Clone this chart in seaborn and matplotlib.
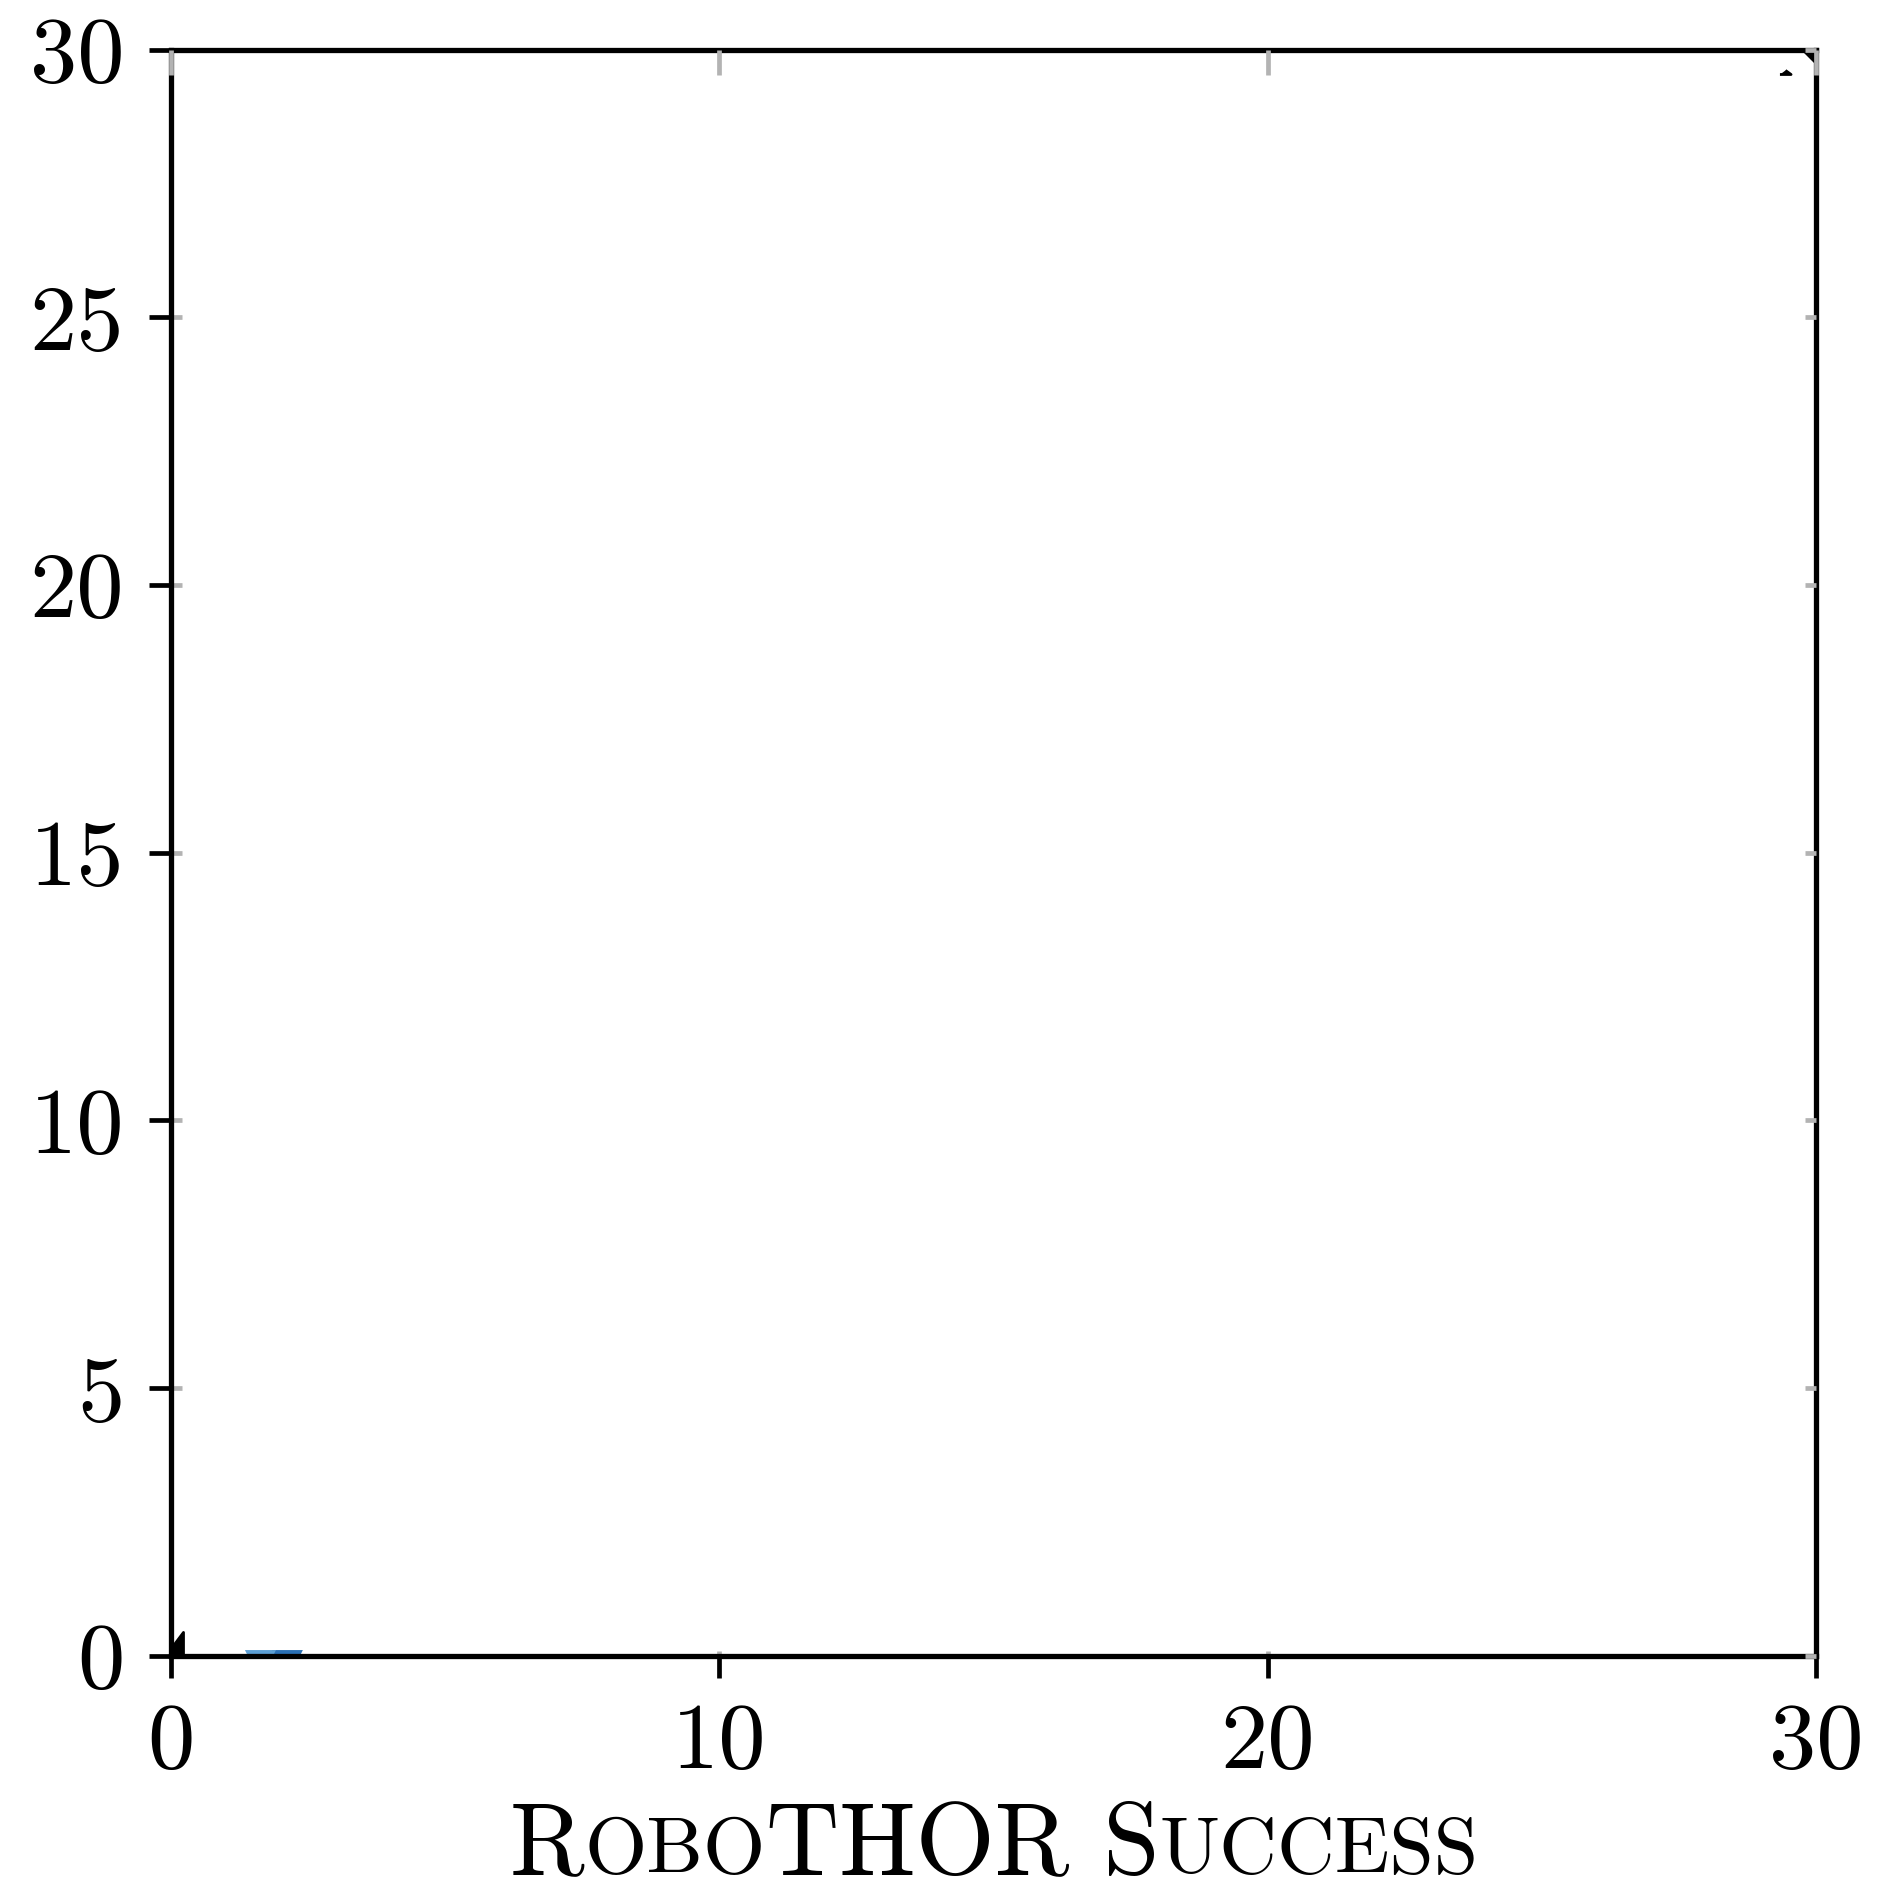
import matplotlib
matplotlib.use("Agg")
import matplotlib.pyplot as plt
import seaborn as sns
import pandas as pd
from matplotlib.offsetbox import TextArea, HPacker, AnchoredOffsetbox

# ---- data ----
x_ticks = [0, 10, 20, 30]
y_ticks = [0, 5, 10, 15, 20, 25, 30]
blue_x = [2.12, 1.63]
blue_y = [-0.18, -0.18]
blue_group = ["dark", "light"]
blue_colors = {"dark": "#2a70b5", "light": "#5c9fd4"}
black_x = [0.22, 29.44, 30.0]
black_y = [-0.075, 29.55, 30.0]

sns.set_theme(style="white")
plt.rcParams["font.family"] = ["cmr10", "DejaVu Serif"]
plt.rcParams["axes.formatter.use_mathtext"] = True
plt.rcParams["text.color"] = "black"
plt.rcParams["xtick.labelcolor"] = "black"
plt.rcParams["ytick.labelcolor"] = "black"

fig = plt.figure(figsize=(9.4, 9.455), dpi=200)
ax = fig.add_axes([0.091, 0.1243, 0.875, 0.8495])

df = pd.DataFrame({"x": blue_x, "y": blue_y, "g": blue_group})
sns.scatterplot(data=df, x="x", y="y", hue="g", palette=blue_colors,
                marker="v", s=125, linewidth=0, legend=False, ax=ax,
                clip_on=True, zorder=3)

marker_left = [(0, 0), (0, 28), (-21, 0)]
marker_small = [(-5.5, 0), (5.5, 0), (0, 4)]
ax.plot([black_x[0]], [black_y[0]], marker=marker_left, ms=20.2, color="black",
        linestyle="none", zorder=3)
ax.plot([black_x[1]], [black_y[1]], marker=marker_small, ms=4.0, color="black",
        linestyle="none", zorder=3)
ax.plot([black_x[2]], [black_y[2]], marker="D", ms=6.6, color="black",
        linestyle="none", zorder=3)

ax.set_xlim(0, 30)
ax.set_ylim(0, 30)
ax.set_xticks(x_ticks)
ax.set_yticks(y_ticks)
ax.set_xticklabels([str(v) for v in x_ticks])
ax.set_yticklabels([str(v) for v in y_ticks])
ax.set_xlabel("")
ax.set_ylabel("")

for s in ax.spines.values():
    s.set_color("black")
    s.set_linewidth(1.9)
    s.set_zorder(4)

ax.tick_params(axis="both", which="major", direction="out", length=7.9,
               width=1.7, color="black", labelsize=34, pad=9,
               labelcolor="black",
               bottom=True, left=True, top=False, right=False)

# grey inward ticks (minor at same positions)
ax.xaxis.remove_overlapping_locs = False
ax.yaxis.remove_overlapping_locs = False
ax.set_xticks(x_ticks, minor=True)
ax.set_yticks(y_ticks, minor=True)
grey = "#b3b3b3"
ax.tick_params(axis="x", which="minor", direction="in", length=1.8, width=1.7,
               color=grey, bottom=True, top=False)
ax.tick_params(axis="y", which="minor", direction="in", length=3.8, width=1.7,
               color=grey, left=True, right=False)

axt = ax.twiny()
axt.set_xlim(0, 30)
axt.set_xticks(x_ticks)
axt.tick_params(axis="x", direction="in", length=9.0, width=1.7, color=grey,
                top=True, bottom=False, labeltop=False, labelbottom=False)
axr = ax.twinx()
axr.set_ylim(0, 30)
axr.set_yticks(y_ticks)
axr.tick_params(axis="y", direction="in", length=3.8, width=1.7, color=grey,
                right=True, left=False, labelright=False, labelleft=False)
for a in (axt, axr):
    a.grid(False)
    for s in a.spines.values():
        s.set_visible(False)
ax.grid(False)

# small-caps style x label
big = dict(fontsize=36.6, family=["cmr10", "DejaVu Serif"], color="black")
small = dict(fontsize=28.8, family=["cmr10", "DejaVu Serif"], color="black")
parts = [TextArea("R", textprops=big), TextArea("OBO", textprops=small),
         TextArea("THOR S", textprops=big), TextArea("UCCESS", textprops=small)]
box = HPacker(children=parts, align="baseline", pad=0, sep=0)
anch = AnchoredOffsetbox(loc="lower center", child=box, pad=0, frameon=False,
                         bbox_to_anchor=(0.529, -0.001), bbox_transform=fig.transFigure,
                         borderpad=0)
fig.add_artist(anch)

fig.savefig("out.png", dpi=200, facecolor="white")
